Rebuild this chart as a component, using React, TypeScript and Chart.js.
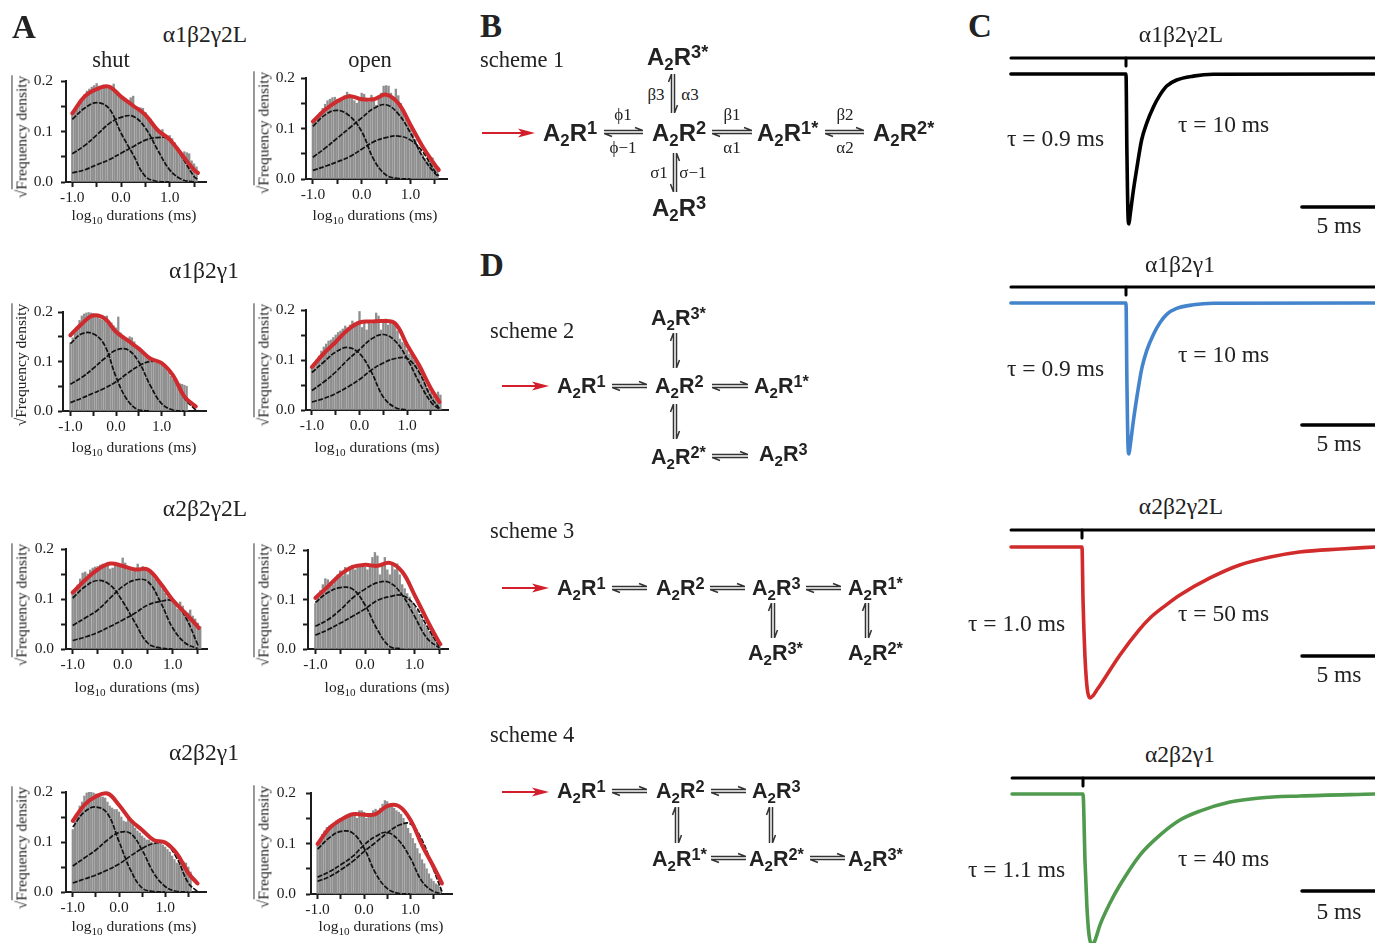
import { useEffect, useRef } from "react";
import { Chart, registerables } from "chart.js";

Chart.register(...registerables);

const SERIF = '"Liberation Serif", serif';
const SANS = '"Liberation Sans", sans-serif';
const INK = "#1c1c1c";

// histogram bins and curve sampling, log10 ms
const binCentres = [-1.0, -0.95, -0.9, -0.85, -0.8, -0.75, -0.7, -0.65, -0.6, -0.55, -0.5, -0.45, -0.4, -0.35, -0.3, -0.25, -0.2, -0.15, -0.1, -0.05, 0.0, 0.05, 0.1, 0.15, 0.2, 0.25, 0.3, 0.35, 0.4, 0.45, 0.5, 0.55, 0.6, 0.65, 0.7, 0.75, 0.8, 0.85, 0.9, 0.95, 1.0, 1.05, 1.1, 1.15, 1.2, 1.25, 1.3, 1.35, 1.4, 1.45, 1.5, 1.55, 1.6, 1.65, 1.7];
const curveGrid = [-1.0, -0.75, -0.5, -0.25, 0.0, 0.25, 0.5, 0.75, 1.0, 1.25, 1.5, 1.75];
const xTickValues = [-1.0, -0.5, 0.0, 0.5, 1.0, 1.5];
const xLabelled = [-1.0, 0.0, 1.0];
const yTickValues = [0, 0.05, 0.1, 0.15, 0.2];
const yLabelled = [0, 0.1, 0.2];

// a1b2g2L
const shut1Bars = [0.135, 0.142, 0.15, 0.157, 0.166, 0.173, 0.18, 0.184, 0.188, 0.191, 0.195, 0.19, 0.183, 0.192, 0.19, 0.185, 0.187, 0.194, 0.18, 0.172, 0.17, 0.165, 0.158, 0.162, 0.167, 0.17, 0.15, 0.148, 0.147, 0.146, 0.138, 0.13, 0.125, 0.118, 0.11, 0.106, 0.1, 0.104, 0.092, 0.088, 0.092, 0.086, 0.078, 0.07, 0.062, 0.05, 0.06, 0.058, 0.056, 0.042, 0.036, 0.03];
const shut1Red = [0.136, 0.169, 0.184, 0.189, 0.169, 0.151, 0.133, 0.103, 0.084, 0.054, 0.024, 0.018];
const shut1C1 = [0.124, 0.146, 0.157, 0.146, 0.097, 0.054, 0.011, 0.001, 0];
const shut1C2 = [0.056, 0.072, 0.093, 0.115, 0.128, 0.13, 0.107, 0.064, 0.024, 0.005, 0];
const shut1C3 = [0.018, 0.024, 0.034, 0.044, 0.057, 0.07, 0.083, 0.088, 0.085, 0.05, 0.011, 0.005];

const open1Bars = [0.112, 0.118, 0.125, 0.132, 0.14, 0.148, 0.155, 0.158, 0.161, 0.162, 0.158, 0.156, 0.16, 0.165, 0.172, 0.168, 0.162, 0.155, 0.15, 0.155, 0.17, 0.168, 0.155, 0.152, 0.166, 0.16, 0.146, 0.16, 0.17, 0.184, 0.185, 0.184, 0.17, 0.162, 0.178, 0.165, 0.15, 0.137, 0.125, 0.11, 0.1, 0.09, 0.078, 0.066, 0.058, 0.048, 0.04, 0.036, 0.034, 0.042, 0.03, 0.018];
const open1Red = [0.114, 0.137, 0.154, 0.164, 0.158, 0.158, 0.167, 0.15, 0.107, 0.064, 0.028, 0.018];
const open1C1 = [0.104, 0.127, 0.136, 0.125, 0.094, 0.038, 0.008, 0.001, 0];
const open1C2 = [0.043, 0.061, 0.081, 0.101, 0.121, 0.14, 0.147, 0.129, 0.091, 0.044, 0.011, 0.005];
const open1C3 = [0.017, 0.025, 0.034, 0.044, 0.059, 0.074, 0.082, 0.085, 0.077, 0.054, 0.015, 0.006];

// a1b2g1
const shut2Bars = [0.138, 0.148, 0.158, 0.17, 0.183, 0.192, 0.196, 0.198, 0.199, 0.198, 0.197, 0.195, 0.19, 0.186, 0.184, 0.19, 0.192, 0.18, 0.178, 0.172, 0.168, 0.19, 0.158, 0.15, 0.148, 0.146, 0.15, 0.148, 0.14, 0.132, 0.128, 0.122, 0.118, 0.11, 0.106, 0.104, 0.1, 0.098, 0.102, 0.1, 0.096, 0.088, 0.086, 0.078, 0.07, 0.064, 0.06, 0.058, 0.055, 0.054, 0.052, 0.05];
const shut2Red = [0.153, 0.176, 0.193, 0.187, 0.16, 0.143, 0.126, 0.106, 0.097, 0.072, 0.029, 0.009];
const shut2C1 = [0.136, 0.156, 0.156, 0.133, 0.069, 0.022, 0.002, 0];
const shut2C2 = [0.054, 0.068, 0.086, 0.106, 0.123, 0.124, 0.099, 0.052, 0.015, 0.002, 0];
const shut2C3 = [0.017, 0.026, 0.036, 0.046, 0.059, 0.076, 0.091, 0.1, 0.097, 0.072, 0.026, 0.002];

const open2Bars = [0.086, 0.094, 0.1, 0.108, 0.118, 0.126, 0.132, 0.138, 0.14, 0.145, 0.15, 0.155, 0.158, 0.162, 0.168, 0.165, 0.17, 0.178, 0.174, 0.176, 0.197, 0.165, 0.178, 0.16, 0.176, 0.172, 0.178, 0.194, 0.188, 0.16, 0.178, 0.182, 0.17, 0.178, 0.176, 0.17, 0.158, 0.142, 0.135, 0.132, 0.12, 0.112, 0.11, 0.1, 0.092, 0.085, 0.072, 0.06, 0.048, 0.042, 0.035, 0.028, 0.03, 0.036, 0.03];
const open2Red = [0.086, 0.113, 0.136, 0.16, 0.175, 0.177, 0.178, 0.173, 0.13, 0.09, 0.043, 0.016];
const open2C1 = [0.075, 0.096, 0.116, 0.125, 0.113, 0.076, 0.026, 0.005, 0];
const open2C2 = [0.039, 0.056, 0.076, 0.1, 0.121, 0.142, 0.151, 0.138, 0.103, 0.056, 0.016, 0.001];
const open2C3 = [0.016, 0.023, 0.033, 0.046, 0.061, 0.08, 0.094, 0.103, 0.103, 0.076, 0.026, 0.003];

// a2b2g2L
const shut3Bars = [0.113, 0.12, 0.128, 0.14, 0.152, 0.154, 0.15, 0.158, 0.162, 0.164, 0.165, 0.168, 0.17, 0.168, 0.172, 0.16, 0.162, 0.172, 0.17, 0.168, 0.182, 0.172, 0.16, 0.158, 0.155, 0.16, 0.17, 0.158, 0.165, 0.16, 0.158, 0.156, 0.15, 0.14, 0.135, 0.13, 0.12, 0.112, 0.104, 0.098, 0.094, 0.09, 0.08, 0.094, 0.086, 0.076, 0.072, 0.078, 0.066, 0.06, 0.052, 0.045];
const shut3Red = [0.113, 0.138, 0.159, 0.171, 0.166, 0.159, 0.159, 0.132, 0.098, 0.072, 0.045, 0.042];
const shut3C1 = [0.102, 0.125, 0.137, 0.128, 0.095, 0.052, 0.012, 0.002, 0];
const shut3C2 = [0.047, 0.062, 0.078, 0.102, 0.125, 0.138, 0.135, 0.095, 0.042, 0.012, 0.001];
const shut3C3 = [0.017, 0.024, 0.033, 0.045, 0.058, 0.072, 0.088, 0.095, 0.096, 0.065, 0.009, 0.005];

const open3Bars = [0.092, 0.106, 0.118, 0.13, 0.142, 0.14, 0.135, 0.13, 0.138, 0.15, 0.158, 0.148, 0.165, 0.15, 0.16, 0.168, 0.16, 0.166, 0.168, 0.172, 0.165, 0.16, 0.168, 0.185, 0.195, 0.188, 0.15, 0.172, 0.185, 0.16, 0.15, 0.175, 0.16, 0.172, 0.15, 0.13, 0.122, 0.112, 0.105, 0.094, 0.085, 0.078, 0.07, 0.06, 0.05, 0.042, 0.035, 0.028, 0.02, 0.012, 0.005];
const open3Red = [0.103, 0.126, 0.15, 0.166, 0.17, 0.168, 0.174, 0.156, 0.109, 0.059, 0.012, 0.01];
const open3C1 = [0.094, 0.114, 0.124, 0.121, 0.089, 0.039, 0.005, 0];
const open3C2 = [0.046, 0.059, 0.079, 0.103, 0.121, 0.134, 0.134, 0.109, 0.066, 0.022, 0.002];
const open3C3 = [0.028, 0.039, 0.052, 0.066, 0.081, 0.098, 0.106, 0.108, 0.089, 0.046, 0.005, 0.004];

// a2b2g1
const shut4Bars = [0.125, 0.142, 0.155, 0.172, 0.18, 0.192, 0.198, 0.2, 0.2, 0.198, 0.196, 0.194, 0.19, 0.19, 0.188, 0.18, 0.172, 0.168, 0.165, 0.165, 0.16, 0.15, 0.142, 0.14, 0.146, 0.145, 0.135, 0.128, 0.122, 0.118, 0.112, 0.108, 0.104, 0.104, 0.1, 0.098, 0.096, 0.1, 0.1, 0.094, 0.09, 0.085, 0.08, 0.072, 0.065, 0.058, 0.056, 0.058, 0.06, 0.058, 0.05, 0.04];
const shut4Red = [0.142, 0.174, 0.191, 0.197, 0.174, 0.144, 0.124, 0.104, 0.099, 0.077, 0.038, 0.017];
const shut4C1 = [0.13, 0.16, 0.17, 0.157, 0.101, 0.044, 0.008, 0.001, 0];
const shut4C2 = [0.052, 0.068, 0.084, 0.104, 0.119, 0.117, 0.084, 0.038, 0.011, 0.001, 0];
const shut4C3 = [0.018, 0.026, 0.034, 0.044, 0.056, 0.072, 0.087, 0.097, 0.097, 0.068, 0.018, 0.001];

const open4Bars = [0.095, 0.105, 0.118, 0.125, 0.132, 0.135, 0.138, 0.14, 0.145, 0.148, 0.15, 0.152, 0.155, 0.158, 0.16, 0.155, 0.158, 0.15, 0.165, 0.165, 0.162, 0.15, 0.155, 0.158, 0.165, 0.168, 0.165, 0.17, 0.178, 0.185, 0.183, 0.178, 0.175, 0.17, 0.165, 0.162, 0.158, 0.15, 0.14, 0.13, 0.12, 0.11, 0.1, 0.09, 0.08, 0.068, 0.06, 0.05, 0.04, 0.03, 0.025, 0.02, 0.018, 0.01];
const open4Red = [0.099, 0.13, 0.147, 0.158, 0.157, 0.158, 0.174, 0.174, 0.147, 0.097, 0.054, 0.021];
const open4C1 = [0.089, 0.111, 0.124, 0.121, 0.091, 0.041, 0.011, 0.001, 0];
const open4C2 = [0.033, 0.044, 0.058, 0.074, 0.097, 0.114, 0.122, 0.106, 0.071, 0.025, 0.005, 0.001];
const open4C3 = [0.025, 0.034, 0.048, 0.064, 0.084, 0.102, 0.121, 0.136, 0.139, 0.107, 0.048, 0.005];

// current traces: ms from onset, fraction of peak amplitude
const trace1T = [-7.88, 0, 0.06, 0.14, 0.2, 0.27, 0.5, 0.73, 1.07, 1.42, 1.87, 2.33, 2.79, 3.47, 4.61, 5.98, 17.05];
const trace1A = [0, 0, 0.5, 0.95, 1, 0.95, 0.78, 0.635, 0.44, 0.327, 0.221, 0.139, 0.08, 0.04, 0.014, 0.002, 0];
const trace2T = [-7.88, 0, 0.06, 0.14, 0.2, 0.28, 0.52, 0.75, 1.09, 1.42, 1.87, 2.33, 2.79, 3.47, 4.61, 5.98, 17.05];
const trace2A = [0, 0, 0.5, 0.95, 1, 0.95, 0.77, 0.62, 0.43, 0.315, 0.21, 0.13, 0.075, 0.036, 0.012, 0.002, 0];
const trace3T = [-4.86, 0, 0.07, 0.2, 0.3, 0.41, 0.55, 0.75, 0.96, 1.23, 2.6, 3.9, 4.66, 5.75, 6.71, 8.77, 10.8, 12.9, 14.9, 17.7, 20.07];
const trace3A = [0, 0, 0.35, 0.72, 0.88, 0.97, 1, 0.985, 0.955, 0.917, 0.715, 0.55, 0.47, 0.385, 0.318, 0.205, 0.119, 0.066, 0.033, 0.013, 0];
const trace4T = [-4.86, 0, 0.14, 0.27, 0.41, 0.62, 0.82, 1.16, 1.85, 2.53, 3.9, 5.27, 6.64, 8.0, 10.07, 12.1, 14.86, 20.0];
const trace4A = [0, 0, 0.45, 0.75, 0.93, 1, 0.97, 0.868, 0.722, 0.603, 0.404, 0.272, 0.172, 0.113, 0.053, 0.026, 0.013, 0];

const histPanels = [
  { bars: shut1Bars, red: shut1Red, c1: shut1C1, c2: shut1C2, c3: shut1C3, end: 1.58, axisX: 66, axisEnd: 206, yTop: 81, yBot: 182, x0: 121, unit: 48.7, titleX: 21, titleY: 137, xTitleX: 134, xTitleY: 215, labelGap: 8 },
  { bars: open1Bars, red: open1Red, c1: open1C1, c2: open1C2, c3: open1C3, end: 1.58, axisX: 306, axisEnd: 447, yTop: 78, yBot: 179, x0: 361.7, unit: 48.8, titleX: 263, titleY: 133, xTitleX: 375, xTitleY: 215, labelGap: 6 },
  { bars: shut2Bars, red: shut2Red, c1: shut2C1, c2: shut2C2, c3: shut2C3, end: 1.75, axisX: 63, axisEnd: 206, yTop: 312, yBot: 411, x0: 116, unit: 45.6, titleX: 21, titleY: 365, xTitleX: 134, xTitleY: 447, labelGap: 5 },
  { bars: open2Bars, red: open2Red, c1: open2C1, c2: open2C2, c3: open2C3, end: 1.68, axisX: 306, axisEnd: 448, yTop: 310, yBot: 410, x0: 359.5, unit: 47.6, titleX: 263, titleY: 365, xTitleX: 377, xTitleY: 447, labelGap: 6 },
  { bars: shut3Bars, red: shut3Red, c1: shut3C1, c2: shut3C2, c3: shut3C3, end: 1.52, axisX: 66, axisEnd: 207, yTop: 549, yBot: 649, x0: 122.7, unit: 50, titleX: 21, titleY: 605, xTitleX: 137, xTitleY: 687, labelGap: 7 },
  { bars: open3Bars, red: open3Red, c1: open3C1, c2: open3C2, c3: open3C3, end: 1.52, axisX: 308, axisEnd: 448, yTop: 550, yBot: 649, x0: 365, unit: 49.6, titleX: 263, titleY: 605, xTitleX: 387, xTitleY: 687, labelGap: 7 },
  { bars: shut4Bars, red: shut4Red, c1: shut4C1, c2: shut4C2, c3: shut4C3, end: 1.7, axisX: 66, axisEnd: 206, yTop: 792, yBot: 892, x0: 119, unit: 46.2, titleX: 21, titleY: 848, xTitleX: 134, xTitleY: 926, labelGap: 8 },
  { bars: open4Bars, red: open4Red, c1: open4C1, c2: open4C2, c3: open4C3, end: 1.68, axisX: 311, axisEnd: 452, yTop: 793, yBot: 894, x0: 364, unit: 46.4, titleX: 263, titleY: 847, xTitleX: 381, xTitleY: 926, labelGap: 10 },
];

const tracePanels = [
  { t: trace1T, a: trace1A, color: "#000000", onset: 1126, base: 74, amp: 150, stim: -0.107, stimTick: -0.053, stimStart: -7.88, stimEnd: 17.05, scaleLevel: 0.887, scaleStart: 12.05, top: 40, bottom: 240 },
  { t: trace2T, a: trace2A, color: "#4384cc", onset: 1126, base: 303, amp: 151, stim: -0.106, stimTick: -0.053, stimStart: -7.88, stimEnd: 17.05, scaleLevel: 0.808, scaleStart: 12.05, top: 275, bottom: 470 },
  { t: trace3T, a: trace3A, color: "#d12b2b", onset: 1082, base: 547, amp: 151, stim: -0.113, stimTick: -0.06, stimStart: -4.86, stimEnd: 20.07, scaleLevel: 0.722, scaleStart: 15.07, top: 520, bottom: 710 },
  { t: trace4T, a: trace4A, color: "#4f9a4d", onset: 1083, base: 794, amp: 151, stim: -0.106, stimTick: -0.053, stimStart: -4.86, stimEnd: 20, scaleLevel: 0.642, scaleStart: 15, top: 768, bottom: 943 },
];

// [text, x, y]
const panelLetters: [string, number, number][] = [["A", 12, 27], ["B", 480, 26], ["C", 968, 26], ["D", 480, 265]];
const subunitTitles: [string, number, number][] = [
  ["α1β2γ2L", 205, 33.5], ["α1β2γ1", 204, 270], ["α2β2γ2L", 205, 508], ["α2β2γ1", 204, 752],
  ["α1β2γ2L", 1181, 33.5], ["α1β2γ1", 1180, 264], ["α2β2γ2L", 1181, 506], ["α2β2γ1", 1180, 754],
  ["5 ms", 1339, 225], ["5 ms", 1339, 443], ["5 ms", 1339, 674], ["5 ms", 1339, 911],
];
const columnTitles: [string, number, number][] = [["shut", 111, 60], ["open", 370, 60]];
const schemeNames: [string, number, number][] = [["scheme 1", 480, 60], ["scheme 2", 490, 331], ["scheme 3", 490, 531], ["scheme 4", 490, 735]];
const tauLabels: [string, number, number][] = [
  ["τ = 0.9 ms", 1007, 138], ["τ = 10 ms", 1178, 124], ["τ = 0.9 ms", 1007, 368], ["τ = 10 ms", 1178, 354],
  ["τ = 1.0 ms", 968, 623], ["τ = 50 ms", 1178, 613], ["τ = 1.1 ms", 968, 869], ["τ = 40 ms", 1178, 858],
];
const rateLabels: [string, number, number][] = [
  ["ϕ1", 623, 115], ["ϕ−1", 623, 148], ["β1", 732, 115], ["α1", 732, 148], ["β2", 845, 115], ["α2", 845, 148],
  ["β3", 656, 95], ["α3", 690, 95], ["σ1", 659, 173], ["σ−1", 693, 173],
];
// [superscript, left, centre y, font size]
const species: [string, number, number, number][] = [
  ["1", 543, 133, 24], ["2", 652, 133, 24], ["1*", 757, 133, 24], ["2*", 873, 133, 24], ["3*", 647, 57, 24], ["3", 652, 208, 24],
  ["1", 557, 386, 21.5], ["2", 655, 386, 21.5], ["1*", 754, 386, 21.5], ["3*", 651, 318, 21.5], ["2*", 651, 457, 21.5], ["3", 759, 454, 21.5],
  ["1", 557, 588, 21.5], ["2", 656, 588, 21.5], ["3", 752, 588, 21.5], ["1*", 848, 588, 21.5], ["3*", 748, 653, 21.5], ["2*", 848, 653, 21.5],
  ["1", 557, 791, 21.5], ["2", 656, 791, 21.5], ["3", 752, 791, 21.5], ["1*", 652, 859, 21.5], ["2*", 749, 859, 21.5], ["3*", 848, 859, 21.5],
];
const redArrows: [number, number, number][] = [[482, 535, 133], [502, 549, 386], [502, 549, 588], [502, 549, 792]];
const hArrows: [number, number, number][] = [
  [604, 643, 132], [712, 752, 132], [825, 864, 132],
  [612, 647, 386], [712, 748, 386], [712, 748, 456],
  [612, 647, 588], [710, 745, 588], [806, 841, 588],
  [612, 647, 791], [711, 746, 791], [711, 746, 858], [810, 845, 858],
];
// [x, y1, y2, barbs flipped]
const vArrows: [number, number, number, boolean][] = [
  [673, 74, 113, false], [675, 153, 192, true],
  [675, 333, 368, false], [675, 404, 439, false],
  [773, 603, 638, false], [867, 603, 638, false],
  [677, 807, 843, false], [771, 807, 843, false],
];

function Histogram({ p }: { p: (typeof histPanels)[number] }) {
  const canvasRef = useRef<HTMLCanvasElement>(null);

  useEffect(() => {
    if (!canvasRef.current) return;
    const xs = curveGrid.filter(v => v < p.end).concat(p.end);
    const curve = (values: number[], color: string, width: number, dash: number[], order: number, cap: "round" | "butt") => ({
      type: "line" as const,
      order,
      data: values.map((y, i) => ({ x: xs[i], y })),
      borderColor: color,
      borderWidth: width,
      borderDash: dash,
      borderCapStyle: cap,
      pointRadius: 0,
      tension: 0.4,
      clip: false,
    });
    const chart = new Chart(canvasRef.current, {
      type: "bar",
      data: {
        datasets: [
          {
            type: "bar",
            order: 3,
            data: p.bars.map((y, i) => ({ x: binCentres[i], y })),
            backgroundColor: "#8f8f8f",
            barThickness: p.unit * 0.05 * 0.7,
          },
          curve(p.c1, "#111111", 1.7, [5, 1.5], 2, "butt"),
          curve(p.c2, "#111111", 1.7, [5, 1.5], 2, "butt"),
          curve(p.c3, "#111111", 1.7, [5, 1.5], 2, "butt"),
          curve(p.red, "#cf2a2e", 4, [], 1, "round"),
        ] as any,
      },
      options: {
        animation: false,
        responsive: false,
        // tick padding counts towards the axis' own top margin, so keep this large
        layout: { padding: { top: 24, right: 4, left: 0, bottom: 0 } },
        plugins: { legend: { display: false }, tooltip: { enabled: false } },
        scales: {
          x: {
            type: "linear",
            offset: false,
            min: (p.axisX - p.x0) / p.unit,
            max: (p.axisEnd - p.x0) / p.unit,
            afterFit: (s: any) => { s.height = 32; },
            afterBuildTicks: (s: any) => { s.ticks = xTickValues.map(value => ({ value })); },
            border: { color: INK, width: 2 },
            grid: { offset: false, drawOnChartArea: false, tickLength: 5, tickWidth: 2, tickColor: INK },
            ticks: {
              autoSkip: false,
              maxRotation: 0,
              padding: 2,
              color: INK,
              font: { family: SERIF, size: 15.5 },
              callback: (v: any) => (xLabelled.includes(v) ? Number(v).toFixed(1) : ""),
            },
          },
          y: {
            min: 0,
            max: 0.2,
            afterFit: (s: any) => { s.width = 50; },
            afterBuildTicks: (s: any) => { s.ticks = yTickValues.map(value => ({ value })); },
            border: { color: INK, width: 2 },
            grid: { drawOnChartArea: false, tickLength: 5, tickWidth: 2, tickColor: INK },
            ticks: {
              autoSkip: false,
              padding: p.labelGap,
              color: INK,
              font: { family: SERIF, size: 15.5 },
              callback: (v: any) => (yLabelled.includes(v) ? Number(v).toFixed(1) : ""),
            },
          },
        },
      },
    });
    return () => chart.destroy();
  }, [p]);

  const left = p.axisX - 50;
  const top = p.yTop - 24;
  return (
    <canvas
      ref={canvasRef}
      width={p.axisEnd + 4 - left}
      height={p.yBot - p.yTop + 56}
      style={{ position: "absolute", left, top }}
    />
  );
}

function Trace({ p }: { p: (typeof tracePanels)[number] }) {
  const canvasRef = useRef<HTMLCanvasElement>(null);

  useEffect(() => {
    if (!canvasRef.current) return;
    const pxPerMs = 14.6;
    const line = (points: { x: number; y: number }[], color: string, width: number) => ({
      data: points,
      borderColor: color,
      borderWidth: width,
      pointRadius: 0,
      cubicInterpolationMode: "monotone" as const,
      borderCapStyle: "round" as const,
    });
    const chart = new Chart(canvasRef.current, {
      type: "line",
      data: {
        datasets: [
          line([{ x: p.stimStart, y: p.stim }, { x: p.stimEnd, y: p.stim }], "#000000", 3),
          line([{ x: 0, y: p.stim }, { x: 0, y: p.stimTick }], "#000000", 3),
          line([{ x: p.scaleStart, y: p.scaleLevel }, { x: p.scaleStart + 5, y: p.scaleLevel }], "#000000", 3.5),
          line(p.t.map((x, i) => ({ x, y: p.a[i] })), p.color, 3.6),
        ],
      },
      options: {
        animation: false,
        responsive: false,
        layout: { padding: 0 },
        plugins: { legend: { display: false }, tooltip: { enabled: false } },
        scales: {
          x: { type: "linear", display: false, min: (1000 - p.onset) / pxPerMs, max: (1375 - p.onset) / pxPerMs },
          y: { type: "linear", display: false, reverse: true, min: (p.top - p.base) / p.amp, max: (p.bottom - p.base) / p.amp },
        },
      },
    });
    return () => chart.destroy();
  }, [p]);

  return (
    <canvas
      ref={canvasRef}
      width={375}
      height={p.bottom - p.top}
      style={{ position: "absolute", left: 1000, top: p.top }}
    />
  );
}

function Species({ sup, x, y, size }: { sup: string; x: number; y: number; size: number }) {
  const small = { lineHeight: 0, position: "relative" as const };
  return (
    <div style={{ position: "absolute", left: x, top: y, lineHeight: 0, whiteSpace: "nowrap", fontFamily: SANS, fontWeight: 700, fontSize: size, color: "#222" }}>
      A<span style={{ ...small, fontSize: "0.7em", top: "0.3em" }}>2</span>R<span style={{ ...small, fontSize: "0.76em", top: "-0.36em" }}>{sup}</span>
    </div>
  );
}

function HArrow({ x1, x2, y }: { x1: number; x2: number; y: number }) {
  const w = x2 - x1;
  return (
    <svg width={w} height={12} style={{ position: "absolute", left: x1, top: y - 6 }}>
      <path d={`M0 4.5H${w}L${w - 8} 1.5M${w} 7.5H0L8 10.5`} fill="none" stroke="#333" strokeWidth={1.5} />
    </svg>
  );
}

function VArrow({ x, y1, y2, flip }: { x: number; y1: number; y2: number; flip: boolean }) {
  const h = y2 - y1;
  const d = flip
    ? `M4.5 0V${h}L1.5 ${h - 8}M7.5 ${h}V0L10.5 8`
    : `M4.5 ${h}V0L1.5 8M7.5 0V${h}L10.5 ${h - 8}`;
  return (
    <svg width={12} height={h} style={{ position: "absolute", left: x - 6, top: y1 }}>
      <path d={d} fill="none" stroke="#333" strokeWidth={1.5} />
    </svg>
  );
}

function RedArrow({ x1, x2, y }: { x1: number; x2: number; y: number }) {
  const w = x2 - x1;
  return (
    <svg width={w} height={12} style={{ position: "absolute", left: x1, top: y - 6 }}>
      <path d={`M0 6H${w - 8}`} stroke="#d21f2b" strokeWidth={1.8} />
      <path d={`M${w} 6L${w - 17} 1.5L${w - 13} 6L${w - 17} 10.5Z`} fill="#d21f2b" />
    </svg>
  );
}

const textAt = (x: number, y: number, size: number, centred: boolean) => ({
  position: "absolute" as const,
  left: x,
  top: y,
  lineHeight: 0,
  whiteSpace: "nowrap" as const,
  fontFamily: SERIF,
  fontSize: size,
  color: "#222",
  transform: centred ? "translateX(-50%)" : undefined,
});

export default function App() {
  document.body.style.margin = "0";
  return (
    <div style={{ position: "relative", width: 1375, height: 943, overflow: "hidden", background: "#fff" }}>
      {histPanels.map((p, i) => (
        <div key={i}>
          <Histogram p={p} />
          <div
            style={{
              position: "absolute",
              left: p.titleX,
              top: p.titleY,
              transform: "translate(-50%,-50%) rotate(-90deg)",
              whiteSpace: "nowrap",
              fontFamily: SERIF,
              fontSize: 15.5,
              lineHeight: 1.1,
              color: "#222",
            }}
          >
            √<span style={{ borderTop: "1px solid #333" }}>Frequency density</span>
          </div>
          <div style={textAt(p.xTitleX, p.xTitleY, 15.5, true)}>
            log<span style={{ fontSize: "0.72em", position: "relative", top: "0.35em", lineHeight: 0 }}>10</span> durations (ms)
          </div>
        </div>
      ))}
      {tracePanels.map((p, i) => <Trace key={i} p={p} />)}
      {panelLetters.map(([t, x, y]) => (
        <div key={t} style={{ ...textAt(x, y, 33, false), fontWeight: 700 }}>{t}</div>
      ))}
      {subunitTitles.map(([t, x, y], i) => <div key={i} style={textAt(x, y, 23.5, true)}>{t}</div>)}
      {columnTitles.map(([t, x, y], i) => <div key={i} style={textAt(x, y, 22.5, true)}>{t}</div>)}
      {schemeNames.map(([t, x, y], i) => <div key={i} style={textAt(x, y, 22.5, false)}>{t}</div>)}
      {tauLabels.map(([t, x, y], i) => <div key={i} style={textAt(x, y, 23.5, false)}>{t}</div>)}
      {rateLabels.map(([t, x, y], i) => <div key={i} style={textAt(x, y, 17, true)}>{t}</div>)}
      {species.map(([sup, x, y, size], i) => <Species key={i} sup={sup} x={x} y={y} size={size} />)}
      {redArrows.map(([a, b, y], i) => <RedArrow key={i} x1={a} x2={b} y={y} />)}
      {hArrows.map(([a, b, y], i) => <HArrow key={i} x1={a} x2={b} y={y} />)}
      {vArrows.map(([x, a, b, flip], i) => <VArrow key={i} x={x} y1={a} y2={b} flip={flip} />)}
    </div>
  );
}
